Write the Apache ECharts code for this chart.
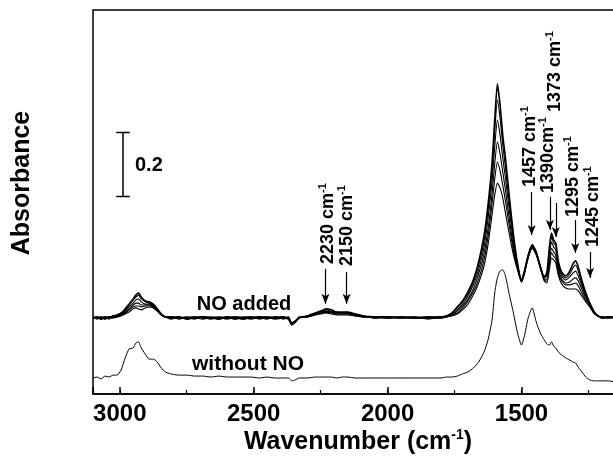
<!DOCTYPE html>
<html><head><meta charset="utf-8">
<script src="https://cdn.jsdelivr.net/npm/echarts@6/dist/echarts.min.js"></script>
<style>html,body{margin:0;padding:0;background:#fff}#c{width:613px;height:458px}</style>
</head><body><div id="c"></div>
<script>
// Wavenumber grid (cm-1), shared by all spectra
const wavenumber = [3100,3085,3070,3055,3040,3025,3010,2995,2980,2965,
2950,2940,2930,2920,2905,2890,2875,2860,2845,2830,
2810,2780,2750,2720,2690,2660,2630,2600,2570,2540,
2510,2480,2450,2420,2390,2370,2358,2345,2330,2300,
2270,2250,2230,2210,2190,2170,2150,2120,2090,2050,
2000,1950,1900,1850,1800,1780,1760,1740,1720,1700,
1680,1660,1640,1625,1610,1600,1590,1580,1570,1560,
1545,1530,1515,1500,1490,1475,1460,1445,1430,1415,
1405,1395,1388,1380,1372,1362,1350,1335,1320,1308,
1298,1288,1275,1260,1245,1230,1215,1200,1175,1150,
1125,1100];

// "NO added" spectra (absorbance, arbitrary offset), highest to lowest
const noAdded1 = [.238,.241,.234,.241,.238,.244,.247,.253,.266,.281,
.297,.309,.316,.303,.291,.288,.281,.266,.25,.241,
.238,.241,.234,.238,.241,.238,.234,.241,.238,.234,
.238,.241,.238,.238,.241,.234,.216,.225,.238,.244,
.253,.259,.266,.263,.256,.256,.256,.25,.244,.241,
.238,.241,.238,.238,.241,.244,.253,.272,.291,.319,
.356,.413,.494,.591,.722,.856,.969,.903,.809,.738,
.613,.497,.409,.356,.381,.434,.466,.444,.4,.366,
.381,.466,.503,.481,.472,.413,.381,.369,.384,.406,
.416,.397,.356,.316,.284,.259,.244,.238,.241,.238,
.238,.238];
const noAdded2 = [.241,.238,.238,.234,.241,.238,.247,.253,.263,.278,
.294,.303,.309,.297,.288,.284,.278,.266,.25,.241,
.241,.234,.238,.241,.238,.241,.238,.234,.238,.241,
.241,.238,.234,.241,.238,.234,.219,.225,.238,.244,
.253,.256,.263,.259,.256,.253,.253,.25,.244,.241,
.241,.238,.238,.241,.241,.244,.253,.269,.288,.313,
.35,.403,.478,.572,.697,.819,.919,.863,.778,.709,
.594,.488,.406,.356,.381,.434,.466,.444,.4,.363,
.375,.453,.491,.472,.463,.406,.375,.363,.375,.394,
.403,.384,.347,.313,.281,.259,.244,.241,.238,.241,
.238,.241];
const noAdded3 = [.234,.241,.238,.241,.234,.241,.244,.25,.259,.272,
.284,.294,.297,.288,.281,.281,.275,.263,.25,.241,
.234,.238,.241,.238,.234,.238,.241,.238,.234,.238,
.241,.234,.238,.241,.234,.238,.219,.228,.238,.244,
.25,.256,.259,.256,.253,.253,.253,.247,.244,.238,
.241,.238,.241,.234,.241,.244,.25,.263,.281,.306,
.341,.388,.459,.547,.663,.772,.856,.809,.738,.675,
.572,.475,.4,.353,.378,.431,.463,.441,.397,.363,
.369,.441,.475,.459,.45,.397,.369,.356,.366,.378,
.384,.369,.338,.306,.281,.256,.244,.238,.241,.238,
.241,.238];
const noAdded4 = [.241,.234,.241,.238,.238,.244,.244,.247,.256,.266,
.278,.284,.284,.278,.278,.278,.275,.263,.247,.241,
.238,.241,.234,.238,.241,.238,.238,.241,.234,.238,
.238,.241,.238,.234,.238,.241,.222,.225,.238,.241,
.25,.253,.256,.256,.25,.25,.25,.247,.241,.241,
.238,.241,.238,.238,.238,.241,.247,.259,.275,.297,
.328,.375,.438,.516,.625,.719,.788,.75,.694,.638,
.544,.459,.397,.353,.375,.428,.459,.438,.397,.359,
.359,.422,.456,.444,.434,.388,.359,.347,.35,.359,
.363,.353,.328,.3,.278,.256,.244,.241,.238,.238,
.238,.241];
const noAdded5 = [.238,.238,.241,.234,.241,.238,.241,.247,.253,.263,
.272,.275,.275,.272,.275,.275,.272,.259,.247,.241,
.241,.238,.238,.234,.241,.238,.234,.238,.241,.238,
.238,.238,.241,.238,.241,.234,.222,.228,.241,.241,
.247,.253,.256,.253,.25,.25,.25,.244,.241,.238,
.241,.238,.238,.241,.238,.241,.247,.253,.269,.291,
.319,.359,.419,.491,.594,.672,.725,.697,.653,.603,
.522,.447,.391,.35,.375,.428,.459,.438,.394,.356,
.353,.409,.441,.431,.422,.378,.353,.341,.341,.344,
.347,.338,.316,.294,.275,.253,.244,.238,.241,.238,
.241,.238];
const noAdded6 = [.238,.238,.234,.238,.241,.241,.241,.244,.25,.256,
.266,.269,.266,.263,.269,.272,.269,.259,.247,.241,
.241,.238,.238,.241,.238,.234,.238,.238,.241,.238,
.234,.238,.241,.238,.238,.238,.222,.228,.238,.241,
.247,.25,.253,.25,.247,.247,.247,.244,.241,.238,
.238,.238,.241,.238,.238,.241,.244,.25,.263,.281,
.309,.347,.4,.466,.559,.622,.659,.644,.613,.566,
.497,.434,.388,.35,.372,.425,.456,.434,.394,.353,
.347,.394,.425,.419,.409,.369,.344,.331,.328,.328,
.328,.322,.306,.288,.272,.253,.244,.238,.238,.241,
.238,.238];
// "without NO" spectrum
const withoutNO = [.05,.053,.047,.056,.053,.059,.059,.075,.113,.141,
.144,.159,.163,.144,.125,.109,.109,.1,.081,.069,
.063,.059,.059,.056,.056,.053,.056,.053,.053,.053,
.053,.05,.053,.05,.05,.05,.041,.044,.05,.05,
.053,.053,.053,.053,.05,.053,.053,.05,.05,.05,
.05,.05,.05,.05,.05,.053,.053,.056,.063,.069,
.081,.1,.131,.169,.231,.316,.363,.384,.388,.369,
.309,.253,.191,.153,.178,.238,.269,.225,.191,.169,
.156,.153,.163,.15,.144,.131,.122,.113,.106,.1,
.097,.084,.069,.053,.044,.041,.041,.041,.041,.038,
.041,.041];

// Tick labels and annotation texts
const tickLabels = [3000, 2500, 2000, 1500];
const annotText = ['2230 cm','2150 cm','1457 cm','1390cm','1373 cm','1295 cm','1245 cm'];
const annotArrowWn = [2232, 2153, 1462, 1394, 1372, 1299, 1244];
const scaleBarValue = 0.2;

// placement (data coordinates) for annotations
const annotPlace = {
  arrowTop:  [.391,.381,.631,.616,.597,.544,.444],
  arrowTip:  [.282,.282,.497,.513,.491,.441,.363],
  labelWn:   [2223,2152,1469,1402,1376,1308,1234],
  labelY:    [.406,.400,.647,.628,.881,.553,.459]
};
const scaleBarPlace = {wn: 2988, top: 0.817, cap: 25};

const FONT = 'Liberation Sans, Arial, sans-serif';
const chart = echarts.init(document.getElementById('c'), null, {renderer: 'canvas'});

const spectraNO = [noAdded1, noAdded2, noAdded3, noAdded4, noAdded5, noAdded6];
const series = spectraNO.map((arr, i) => ({
  type: 'line', name: 'NO added ' + (i + 1),
  data: wavenumber.map((w, j) => [w, arr[j]]),
  symbol: 'none', smooth: 0.2, silent: true,
  lineStyle: {color: '#000', width: i === 0 ? 1.6 : 1.1}
}));
series.push({
  type: 'line', name: 'without NO',
  data: wavenumber.map((w, j) => [w, withoutNO[j]]),
  symbol: 'none', smooth: 0.2, silent: true,
  lineStyle: {color: '#000', width: 1}
});
const sb = scaleBarPlace;
const sbBottom = sb.top - scaleBarValue;
series.push({
  type: 'line', name: 'scale',
  data: [[sb.wn + sb.cap, sb.top], [sb.wn - sb.cap, sb.top], [sb.wn, sb.top], [sb.wn, sbBottom], [sb.wn + sb.cap, sbBottom], [sb.wn - sb.cap, sbBottom]],
  symbol: 'none', silent: true,
  lineStyle: {color: '#000', width: 1.5}
});
series.push({
  type: 'line', name: 'arrows', data: [], silent: true,
  markLine: {
    silent: true, animation: false,
    symbol: ['none', 'arrow'], symbolSize: [6, 10],
    label: {show: false},
    lineStyle: {color: '#000', width: 1.2, type: 'solid'},
    data: annotArrowWn.map((w, i) => [{coord: [w, annotPlace.arrowTop[i]]}, {coord: [w, annotPlace.arrowTip[i]]}])
  }
});

const option = {
  animation: false,
  backgroundColor: '#fff',
  grid: {left: 93, right: -42.4, top: 10, bottom: 64, show: true, borderColor: '#000', borderWidth: 1.5,
         containLabel: false, outerBoundsMode: 'none'},
  xAxis: [
    {type: 'value', min: 1000, max: 3100, inverse: true, interval: 500, position: 'bottom',
     axisLine: {show: true, lineStyle: {color: '#000', width: 1.5}},
     axisTick: {show: true, inside: true, length: 7, lineStyle: {color: '#000', width: 1.5}},
     axisLabel: {show: true, margin: 8, fontSize: 24, fontWeight: 'bold', fontFamily: FONT, color: '#000',
       formatter: v => tickLabels.indexOf(v) >= 0 ? String(v) : ''},
     splitLine: {show: false}},
    {type: 'value', min: 1000, max: 3100, inverse: true, interval: 250, position: 'bottom',
     axisLine: {show: false},
     axisTick: {show: true, inside: true, length: 4, lineStyle: {color: '#000', width: 1.2}},
     axisLabel: {show: false}, splitLine: {show: false}}
  ],
  yAxis: {type: 'value', min: 0, max: 1.2, show: false},
  series: series
};
chart.setOption(option);

const supRich = {
  n: {fontSize: 18, fontWeight: 'bold', fontFamily: FONT, fill: '#000', color: '#000', lineHeight: 20},
  s: {fontSize: 11, fontWeight: 'bold', fontFamily: FONT, fill: '#000', color: '#000', lineHeight: 11, verticalAlign: 'top'}
};
const graphics = annotText.map((t, i) => {
  const p = chart.convertToPixel({gridIndex: 0}, [annotPlace.labelWn[i], annotPlace.labelY[i]]);
  return {type: 'text', x: p[0], y: p[1], rotation: Math.PI / 2, silent: true,
    style: {text: '{n|' + t + '}{s|-1}', rich: supRich, align: 'left', textAlign: 'left', verticalAlign: 'middle', textVerticalAlign: 'middle'}};
});
function plainText(txt, x, y, size, rot, align) {
  return {type: 'text', x: x, y: y, rotation: rot || 0, silent: true,
    style: {text: txt, fontSize: size, fontWeight: 'bold', fontFamily: FONT, fill: '#000',
      align: align || 'center', textAlign: align || 'center', verticalAlign: 'middle', textVerticalAlign: 'middle'}};
}
graphics.push(plainText('Absorbance', 22.5, 183, 25, Math.PI / 2));
graphics.push(plainText('0.2', 135, 165, 20, 0, 'left'));
graphics.push(plainText('NO added', 244, 304.5, 20));
graphics.push(plainText('without NO', 248, 364.5, 21));
graphics.push({type: 'text', x: 358, y: 442, silent: true,
  style: {text: '{a|Wavenumber (cm}{b|-1}{a|)}', align: 'center', textAlign: 'center', verticalAlign: 'middle', textVerticalAlign: 'middle',
    rich: {
      a: {fontSize: 25, fontWeight: 'bold', fontFamily: FONT, fill: '#000', color: '#000', lineHeight: 28},
      b: {fontSize: 14, fontWeight: 'bold', fontFamily: FONT, fill: '#000', color: '#000', lineHeight: 14, verticalAlign: 'top'}
    }}});
chart.setOption({graphic: {elements: graphics}});
</script></body></html>
